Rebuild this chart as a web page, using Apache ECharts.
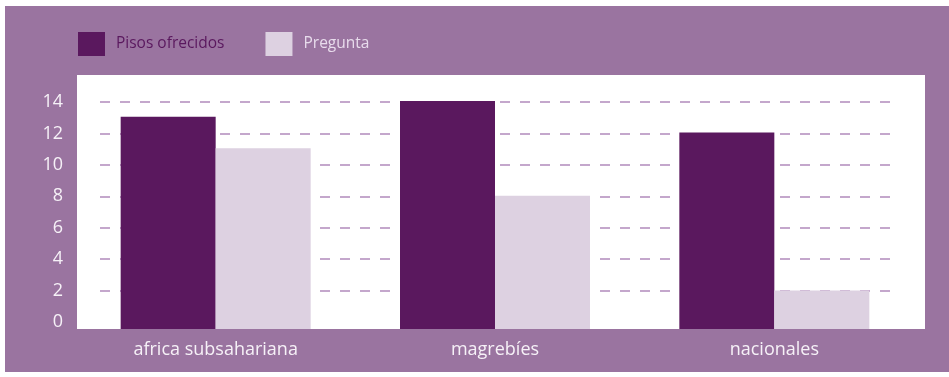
<!DOCTYPE html>
<html>
<head>
<meta charset="utf-8">
<script src="https://cdn.jsdelivr.net/npm/echarts@6/dist/echarts.min.js"></script>
<style>
  html, body { margin: 0; padding: 0; background: #ffffff; }
  #chart { width: 949px; height: 377px; }
</style>
</head>
<body>
<div id="chart"></div>
<script>
// Origen de los inquilinos: pisos ofrecidos frente a preguntas
const categories = ['africa subsahariana', 'magrebíes', 'nacionales'];
const pisosOfrecidos = [13, 14, 12];
const pregunta = [11, 8, 2];
const yMin = 0;
const yMax = 14;
const yStep = 2;

const FONT = '"Open Sans", "Noto Sans", sans-serif';
const DARK = '#5a185e';
const LIGHT = '#ddd1e1';
const FRAME = '#9a74a0';

const chart = echarts.init(document.getElementById('chart'), null, { renderer: 'canvas' });

chart.setOption({
  animation: false,
  backgroundColor: '#ffffff',
  textStyle: { fontFamily: FONT },
  graphic: [
    { type: 'rect', z: -10, silent: true,
      shape: { x: 5, y: 6, width: 944, height: 366 }, style: { fill: FRAME } },
    { type: 'rect', z: -9, silent: true,
      shape: { x: 77, y: 75, width: 848, height: 254 }, style: { fill: '#ffffff' } }
  ],
  legend: {
    left: 78,
    top: 32,
    padding: 0,
    itemWidth: 27,
    itemHeight: 24,
    itemGap: 41,
    icon: 'rect',
    selectedMode: false,
    textStyle: { fontFamily: FONT, fontSize: 15.5, padding: [0, 0, 0, 6] },
    data: [
      { name: 'Pisos ofrecidos', textStyle: { color: DARK } },
      { name: 'Pregunta', textStyle: { color: '#e8dcec' } }
    ]
  },
  grid: [
    { left: 76, width: 838, top: 101, height: 221 },
    { left: 100, width: 795, top: 102, height: 220 }
  ],
  xAxis: [
    {
      type: 'category', gridIndex: 0, data: categories,
      axisLine: { show: false }, axisTick: { show: false },
      axisLabel: { color: '#f6f1f7', fontSize: 18, margin: 19, fontFamily: FONT }
    },
    {
      type: 'category', gridIndex: 1, data: categories, show: false
    }
  ],
  yAxis: [
    {
      type: 'value', gridIndex: 0, min: yMin, max: yMax, interval: yStep,
      startValue: -0.45,
      show: false, splitLine: { show: false }
    },
    {
      type: 'value', gridIndex: 1, min: yMin, max: yMax, interval: yStep,
      axisLine: { show: false }, axisTick: { show: false },
      axisLabel: { color: '#f6f1f7', fontSize: 18, margin: 37, fontFamily: FONT },
      splitLine: {
        show: true, showMinLine: false,
        lineStyle: { color: '#c4a7cc', width: 2, type: [10, 10] }
      }
    }
  ],
  series: [
    {
      name: 'Pisos ofrecidos', type: 'bar', xAxisIndex: 0, yAxisIndex: 0,
      data: pisosOfrecidos, barWidth: 95, barGap: '0%', clip: false,
      itemStyle: { color: DARK }
    },
    {
      name: 'Pregunta', type: 'bar', xAxisIndex: 0, yAxisIndex: 0,
      data: pregunta, barWidth: 95, barGap: '0%', clip: false,
      itemStyle: { color: LIGHT }
    }
  ]
});
</script>
</body>
</html>
